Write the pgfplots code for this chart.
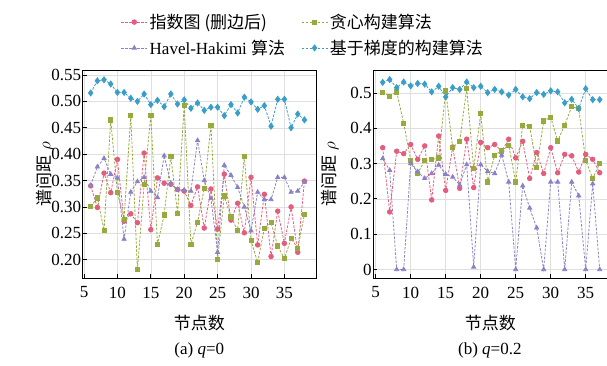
\documentclass[border=0pt]{standalone}
\usepackage{fontspec}
\setmainfont{Liberation Serif}
\newfontfamily\cjk{Noto Sans CJK SC}
\usepackage{pgfplots}
\pgfplotsset{compat=1.18}
\usepackage{pgfplotstable}

\definecolor{cpink}{HTML}{E25D7E}
\definecolor{cpurp}{HTML}{8A82C6}
\definecolor{cgreen}{HTML}{98A93E}
\definecolor{cblue}{HTML}{3A9EC8}

\pgfplotstableread{
x exp hh greedy grad
6 0.340 0.341 0.301 0.516
7 0.299 0.376 0.317 0.539
8 0.364 0.392 0.256 0.541
9 0.327 0.362 0.465 0.533
10 0.390 0.355 0.327 0.517
11 0.273 0.239 0.277 0.517
12 0.287 0.328 0.473 0.506
13 0.270 0.348 0.181 0.500
14 0.402 0.356 0.342 0.514
15 0.257 0.330 0.474 0.494
16 0.355 0.318 0.229 0.502
17 0.345 0.397 0.285 0.490
18 0.343 0.345 0.396 0.514
19 0.333 0.333 0.288 0.495
20 0.330 0.332 0.492 0.503
21 0.303 0.330 0.229 0.487
22 0.338 0.426 0.271 0.497
23 0.260 0.350 0.335 0.483
24 0.334 0.316 0.455 0.489
25 0.258 0.214 0.201 0.489
26 0.362 0.379 0.321 0.473
27 0.275 0.360 0.281 0.494
28 0.307 0.337 0.256 0.478
29 0.251 0.300 0.396 0.508
30 0.356 0.255 0.236 0.499
31 0.228 0.328 0.195 0.485
32 0.324 0.314 0.260 0.492
33 0.206 0.314 0.270 0.453
34 0.292 0.356 0.226 0.504
35 0.231 0.356 0.202 0.504
36 0.300 0.328 0.240 0.450
37 0.214 0.330 0.222 0.476
38 0.349 0.347 0.286 0.465
}\dataA

\pgfplotstableread{
x exp hh greedy grad
6 0.345 0.314 0.501 0.530
7 0.163 0.281 0.491 0.538
8 0.335 0.000 0.503 0.515
9 0.328 0.000 0.414 0.531
10 0.354 0.300 0.310 0.520
11 0.312 0.277 0.272 0.527
12 0.350 0.258 0.309 0.525
13 0.197 0.272 0.311 0.503
14 0.378 0.296 0.316 0.519
15 0.224 0.270 0.506 0.489
16 0.347 0.262 0.346 0.515
17 0.230 0.239 0.362 0.510
18 0.369 0.297 0.512 0.531
19 0.232 0.007 0.286 0.515
20 0.360 0.297 0.442 0.519
21 0.345 0.278 0.248 0.501
22 0.354 0.272 0.324 0.510
23 0.335 0.324 0.336 0.503
24 0.369 0.248 0.352 0.494
25 0.316 0.000 0.248 0.510
26 0.363 0.237 0.409 0.489
27 0.258 0.174 0.406 0.484
28 0.331 0.118 0.289 0.501
29 0.272 0.000 0.421 0.496
30 0.345 0.248 0.431 0.506
31 0.274 0.248 0.364 0.503
32 0.326 0.000 0.409 0.472
33 0.322 0.248 0.461 0.482
34 0.276 0.209 0.456 0.456
35 0.326 0.000 0.309 0.512
36 0.312 0.243 0.258 0.481
37 0.274 0.000 0.300 0.481
}\dataB

\pgfplotsset{
  common/.style={
    scale only axis,
    anchor=south west,
    axis line style={black, line width=1.0pt},
    grid=major,
    major grid style={gray!25, line width=0.5pt},
    tick align=inside,
    xtick pos=bottom, ytick pos=left,
    major tick length=4pt,
    tick style={black, line width=0.8pt},
    xtick={5,10,...,35},
    tick label style={font=\fontsize{17}{20}\selectfont},
    /pgf/number format/assume math mode=true,
    yticklabel style={inner xsep=1.5pt},
    xticklabel style={yshift=-5pt},
    xlabel={\cjk 节点数},
    ylabel={{\cjk 谱间距} $\rho$},
    every axis x label/.style={at={(axis description cs:0.5,-0.215)}, anchor=center, font=\fontsize{17}{20}\selectfont},
  },
  sty/.style={dashed, dash pattern=on 2.5pt off 1.5pt, line width=0.8pt},
  pinkp/.style={sty, color=cpink, mark=*, mark size=2.3pt, mark options={solid}},
  purpp/.style={sty, color=cpurp, mark=triangle*, mark size=2.4pt, mark options={solid}},
  greenp/.style={sty, color=cgreen, mark=square*, mark size=2.1pt, mark options={solid}},
  bluep/.style={sty, color=cblue, mark=diamond*, mark size=3.0pt, mark options={solid}},
}

\begin{document}
\begin{tikzpicture}
\path[use as bounding box] (0,0) rectangle (607pt,365pt);
\begin{axis}[common, name=a,
  at={(82.7pt,86.7pt)}, width=233.3pt, height=208.3pt,
  xmin=4.805, xmax=39.73, ymin=0.1647, ymax=0.5595,
  ytick={0.20,0.25,...,0.56},
  yticklabel style={/pgf/number format/.cd, fixed, fixed zerofill, precision=2},
  every axis y label/.style={at={(axis description cs:-0.162,0.5)}, rotate=90, anchor=center, font=\fontsize{17}{20}\selectfont},
  legend columns=2,
  legend cell align=left,
  legend style={draw=none, fill=none, at={(axis description cs:0.15,1.168)}, anchor=west,
    font=\fontsize{17}{20}\selectfont, row sep=6pt,
    /tikz/every even column/.append style={column sep=14pt}},
  legend image code/.code={\draw[mark repeat=2,mark phase=2,#1] plot coordinates {(0pt,0pt) (13pt,0pt) (26pt,0pt)};},
]
\addplot[pinkp] table[x=x,y=exp] {\dataA};
\addlegendentry{\cjk 指数图 (删边后)}
\addplot[greenp] table[x=x,y=greedy] {\dataA};
\addlegendentry{\cjk 贪心构建算法}
\addplot[purpp] table[x=x,y=hh] {\dataA};
\addlegendentry{Havel-Hakimi {\cjk 算法}}
\addplot[bluep] table[x=x,y=grad] {\dataA};
\addlegendentry{\cjk 基于梯度的构建算法}
\end{axis}
\begin{axis}[common, name=b,
  at={(373.3pt,86.7pt)}, width=234.1pt, height=208.3pt,
  xmin=4.66, xmax=38.1, ymin=-0.025, ymax=0.565,
  ytick={0,0.1,...,0.51},
  every axis y label/.style={at={(axis description cs:-0.185,0.5)}, rotate=90, anchor=center, font=\fontsize{17}{20}\selectfont},
]
\addplot[pinkp] table[x=x,y=exp] {\dataB};
\addplot[greenp] table[x=x,y=greedy] {\dataB};
\addplot[purpp] table[x=x,y=hh] {\dataB};
\addplot[bluep] table[x=x,y=grad] {\dataB};
\end{axis}
\node[font=\fontsize{17}{20}\selectfont] at ([yshift=-71.7pt]a.south) {(a) \textit{q}=0};
\node[font=\fontsize{17}{20}\selectfont] at ([yshift=-71.7pt,xshift=-0.5pt]b.south) {(b) \textit{q}=0.2};
\end{tikzpicture}
\end{document}
